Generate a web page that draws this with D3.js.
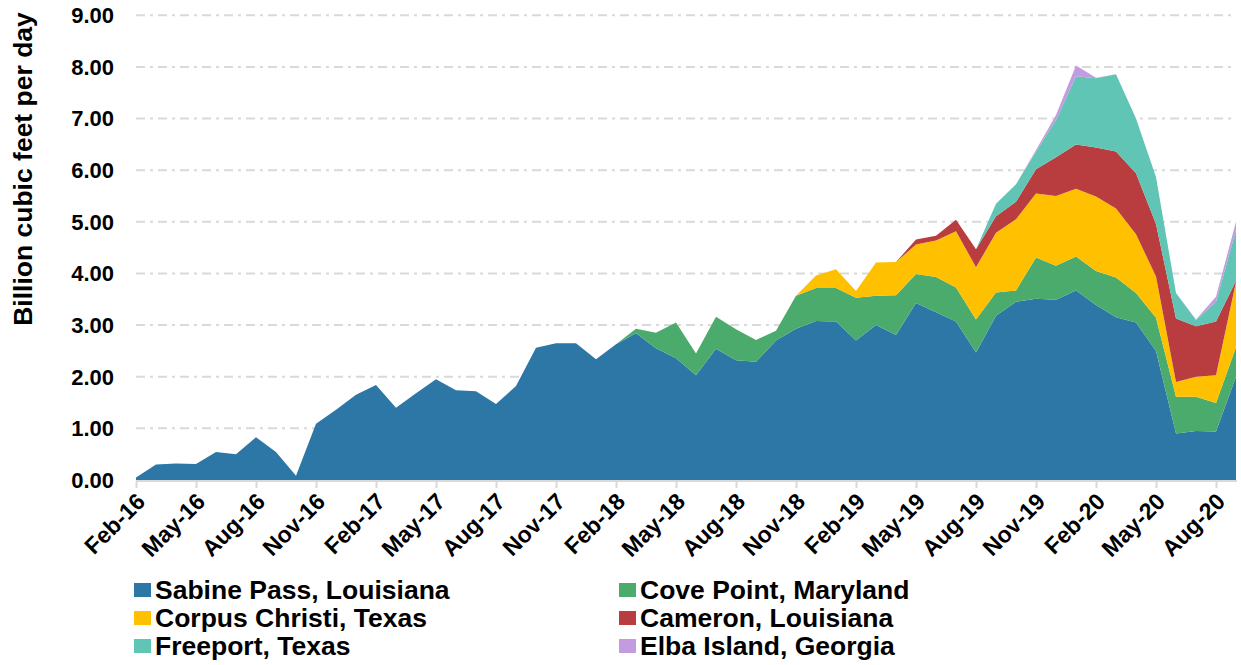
<!DOCTYPE html>
<html>
<head>
<meta charset="utf-8">
<script src="https://cdn.jsdelivr.net/npm/d3@7"></script>
<style>
  body { margin: 0; background: #fff; }
  text { font-family: "Liberation Sans", Arial, sans-serif; font-weight: bold; fill: #000; }
</style>
</head>
<body>
<div id="chart"></div>
<script>
var months = ["Feb-16","Mar-16","Apr-16","May-16","Jun-16","Jul-16","Aug-16","Sep-16","Oct-16","Nov-16","Dec-16",
  "Jan-17","Feb-17","Mar-17","Apr-17","May-17","Jun-17","Jul-17","Aug-17","Sep-17","Oct-17","Nov-17","Dec-17",
  "Jan-18","Feb-18","Mar-18","Apr-18","May-18","Jun-18","Jul-18","Aug-18","Sep-18","Oct-18","Nov-18","Dec-18",
  "Jan-19","Feb-19","Mar-19","Apr-19","May-19","Jun-19","Jul-19","Aug-19","Sep-19","Oct-19","Nov-19","Dec-19",
  "Jan-20","Feb-20","Mar-20","Apr-20","May-20","Jun-20","Jul-20","Aug-20","Sep-20"];

var sabine = [0.05,0.30,0.32,0.31,0.54,0.50,0.83,0.54,0.08,1.09,1.36,
  1.65,1.84,1.40,1.68,1.95,1.74,1.72,1.47,1.82,2.56,2.65,2.65,
  2.34,2.63,2.84,2.55,2.36,2.03,2.54,2.32,2.29,2.70,2.93,3.08,
  3.07,2.70,3.00,2.81,3.43,3.25,3.07,2.47,3.18,3.45,3.51,3.49,
  3.67,3.39,3.15,3.05,2.50,0.90,0.95,0.94,2.00];
var covePoint = [0,0,0,0,0,0,0,0,0,0,0,
  0,0,0,0,0,0,0,0,0,0,0,0,
  0,0,0.09,0.30,0.69,0.42,0.62,0.60,0.42,0.19,0.64,0.64,
  0.65,0.83,0.57,0.77,0.56,0.68,0.66,0.64,0.45,0.22,0.80,0.66,
  0.66,0.66,0.77,0.57,0.64,0.71,0.66,0.55,0.57];
var corpusChristi = [0,0,0,0,0,0,0,0,0,0,0,
  0,0,0,0,0,0,0,0,0,0,0,0,
  0,0,0,0,0,0,0,0,0,0,0,0.24,
  0.36,0.13,0.64,0.64,0.57,0.71,1.09,1.01,1.16,1.38,1.24,1.35,
  1.31,1.44,1.34,1.14,0.80,0.29,0.39,0.54,1.27];
var cameron = [0,0,0,0,0,0,0,0,0,0,0,
  0,0,0,0,0,0,0,0,0,0,0,0,
  0,0,0,0,0,0,0,0,0,0,0,0,
  0,0,0,0,0.10,0.09,0.22,0.35,0.32,0.34,0.47,0.75,
  0.86,0.95,1.10,1.18,1.02,1.23,0.98,1.04,0.02];
var freeport = [0,0,0,0,0,0,0,0,0,0,0,
  0,0,0,0,0,0,0,0,0,0,0,0,
  0,0,0,0,0,0,0,0,0,0,0,0,
  0,0,0,0,0,0,0,0,0.24,0.34,0.34,0.72,
  1.32,1.34,1.50,1.06,0.91,0.49,0.12,0.38,0.98];
var elbaIsland = [0,0,0,0,0,0,0,0,0,0,0,
  0,0,0,0,0,0,0,0,0,0,0,0,
  0,0,0,0,0,0,0,0,0,0,0,0,
  0,0,0,0,0,0,0,0,0,0,0.03,0.10,
  0.21,0.01,0,0,0,0,0.01,0.10,0.16];

var seriesNames = ["Sabine Pass, Louisiana","Cove Point, Maryland","Corpus Christi, Texas",
  "Cameron, Louisiana","Freeport, Texas","Elba Island, Georgia"];
var seriesValues = [sabine, covePoint, corpusChristi, cameron, freeport, elbaIsland];
var colors = ["#2d77a6","#4aab6d","#ffc000","#b93d3f","#60c5b4","#c39be0"];
var yTicks = [0,1,2,3,4,5,6,7,8,9];

// rows for d3.stack
var rows = months.map(function(m, i) {
  var r = {month: m};
  seriesNames.forEach(function(s, k) { r[s] = seriesValues[k][i]; });
  return r;
});

var width = 1241, height = 665;
var svg = d3.select("#chart").append("svg")
  .attr("width", width)
  .attr("height", height);

var x = d3.scalePoint().domain(months).range([136, 1236]);
var y = d3.scaleLinear().domain([0, 9]).range([480, 15.3]);

// gridlines
svg.append("g").selectAll("line.grid")
  .data(yTicks.slice(1))
  .enter().append("line")
  .attr("class", "grid")
  .attr("x1", 136).attr("x2", 1236)
  .attr("y1", function(d) { return y(d); })
  .attr("y2", function(d) { return y(d); })
  .attr("stroke", "#d9d9d9")
  .attr("stroke-width", 2)
  .attr("stroke-dasharray", "9,5,3,5");

var stack = d3.stack().keys(seriesNames);
var layers = stack(rows);

var area = d3.area()
  .x(function(d) { return x(d.data.month); })
  .y0(function(d) { return y(d[0]); })
  .y1(function(d) { return y(d[1]); });

svg.append("g").selectAll("path.layer")
  .data(layers)
  .enter().append("path")
  .attr("class", "layer")
  .attr("d", area)
  .attr("fill", function(d, i) { return colors[i]; });

// x axis
var xAxis = d3.axisBottom(x)
  .tickValues(months.filter(function(d, i) { return i % 3 === 0; }))
  .tickSize(7)
  .tickSizeOuter(0);

var gx = svg.append("g")
  .attr("transform", "translate(0,481)")
  .call(xAxis);
gx.select(".domain").attr("stroke", "#d9d9d9").attr("stroke-width", 2)
  .attr("d", "M136,0H1237");
gx.selectAll(".tick line").attr("stroke", "#d9d9d9").attr("stroke-width", 2);
gx.selectAll(".tick text")
  .attr("font-size", 23)
  .attr("text-anchor", "end")
  .attr("dy", 0)
  .attr("y", 0)
  .attr("transform", "translate(10,22) rotate(-45)");

// y axis labels
svg.append("g").selectAll("text.ytick")
  .data(yTicks)
  .enter().append("text")
  .attr("class", "ytick")
  .attr("x", 114)
  .attr("y", function(d) { return y(d); })
  .attr("dy", "0.36em")
  .attr("text-anchor", "end")
  .attr("font-size", 22)
  .text(function(d) { return d3.format(".2f")(d); });

svg.append("text")
  .attr("transform", "translate(32,169) rotate(-90)")
  .attr("text-anchor", "middle")
  .attr("font-size", 26.5)
  .text("Billion cubic feet per day");

// legend
var legendOrder = [0, 2, 4, 1, 3, 5];
var legend = svg.append("g").selectAll("g.legend")
  .data(legendOrder)
  .enter().append("g")
  .attr("class", "legend")
  .attr("transform", function(d, i) {
    var col = Math.floor(i / 3), row = i % 3;
    return "translate(" + (col === 0 ? 134 : 619) + "," + (599 + row * 28) + ")";
  });
legend.append("rect")
  .attr("x", 0).attr("y", -16)
  .attr("width", 17).attr("height", 14)
  .attr("fill", function(d) { return colors[d]; });
legend.append("text")
  .attr("x", 21).attr("y", 0)
  .attr("font-size", 26.5)
  .text(function(d) { return seriesNames[d]; });
</script>
</body>
</html>
